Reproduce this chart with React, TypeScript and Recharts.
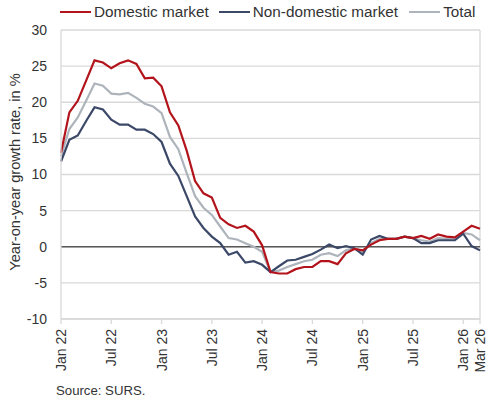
import React from 'react';
import { LineChart, Line, XAxis, YAxis, CartesianGrid, ReferenceLine } from 'recharts';

const MONTH_NAMES = ['Jan', 'Feb', 'Mar', 'Apr', 'May', 'Jun', 'Jul', 'Aug', 'Sep', 'Oct', 'Nov', 'Dec'];
const YEARS = ['22', '23', '24', '25', '26'];
const MONTHS = YEARS.flatMap((y) => MONTH_NAMES.map((m) => `${m} ${y}`)).slice(0, 51);

const X_TICKS = [0, 6, 12, 18, 24, 30, 36, 42, 48, 50];
const Y_TICKS = [-10, -5, 0, 5, 10, 15, 20, 25, 30];

const DOMESTIC = [
  13.0, 18.6, 20.2, 23.0, 25.8, 25.5, 24.7, 25.4, 25.8, 25.3, 23.3, 23.4,
  22.2, 18.6, 16.8, 13.3, 9.1, 7.4, 6.8, 4.0, 3.1, 2.6, 2.9, 2.1,
  0.2, -3.5, -3.7, -3.7, -3.1, -2.8, -2.8, -2.0, -2.0, -2.4, -0.9, -0.3,
  -0.5, 0.3, 0.9, 1.1, 1.1, 1.4, 1.2, 1.5, 1.1, 1.7, 1.4, 1.3,
  2.1, 2.9, 2.5,
];

const NON_DOMESTIC = [
  11.8, 14.8, 15.4, 17.4, 19.3, 19.0, 17.6, 16.9, 16.9, 16.2, 16.2, 15.6,
  14.5, 11.5, 9.8, 7.0, 4.2, 2.6, 1.4, 0.5, -1.1, -0.7, -2.2, -2.0,
  -2.5, -3.5, -2.7, -1.9, -1.8, -1.4, -1.0, -0.4, 0.3, -0.2, 0.1, -0.2,
  -1.1, 1.0, 1.5, 1.1, 1.1, 1.4, 1.2, 0.5, 0.5, 0.9, 0.9, 0.9,
  1.8, 0.1, -0.5,
];

const TOTAL = [
  12.5, 16.3, 17.9, 20.2, 22.6, 22.3, 21.2, 21.1, 21.3, 20.6, 19.8, 19.4,
  18.5, 15.2, 13.5, 10.2, 7.0, 5.4, 4.4, 2.8, 1.2, 1.0, 0.5, 0.0,
  -0.7, -3.5, -3.3, -2.8, -2.4, -2.0, -1.8, -1.1, -0.9, -1.3, -0.5, -0.2,
  -0.7, 0.5, 1.1, 1.1, 1.1, 1.4, 1.2, 0.9, 0.7, 1.2, 1.1, 1.2,
  1.9, 1.7, 0.9,
];

const SERIES = [
  { key: 'domestic', name: 'Domestic market', color: '#B3141C' },
  { key: 'nonDomestic', name: 'Non-domestic market', color: '#3B4868' },
  { key: 'total', name: 'Total', color: '#AEB4BB' },
];

const data = MONTHS.map((month, i) => ({
  idx: i,
  month,
  domestic: DOMESTIC[i],
  nonDomestic: NON_DOMESTIC[i],
  total: TOTAL[i],
}));

const FONT = '"Liberation Sans", Arial, sans-serif';
const TEXT = '#333333';
const GRID = '#D9D9D9';

const XTick = (props: any) => {
  const { x, y, payload } = props;
  return (
    <g transform={`translate(${x},${y + 3})`}>
      <text transform="rotate(-90)" textAnchor="end" dy="0.36em" fontSize={14} fill={TEXT} fontFamily={FONT}>
        {MONTHS[payload.value]}
      </text>
    </g>
  );
};

const ChartLegend = () => (
  <div
    style={{
      position: 'absolute',
      top: 3,
      left: 60,
      display: 'flex',
      alignItems: 'center',
      fontFamily: FONT,
      fontSize: 15.3,
      color: TEXT,
      lineHeight: '18px',
      whiteSpace: 'nowrap',
    }}
  >
    {SERIES.map((s, i) => (
      <div key={s.key} style={{ display: 'flex', alignItems: 'center', marginRight: i === 0 ? 10 : 11 }}>
        <span style={{ display: 'inline-block', width: 31, height: 2.5, background: s.color, marginRight: 3 }} />
        <span>{s.name}</span>
      </div>
    ))}
  </div>
);

export default function App() {
  return (
    <div style={{ position: 'absolute', left: 0, top: 0, width: 490, height: 401, background: '#fff' }}>
      <LineChart width={490} height={401} data={data} margin={{ top: 30, right: 10, bottom: 0, left: 0 }}>
        <CartesianGrid vertical={false} stroke={GRID} strokeWidth={1.3} />
        <XAxis
          dataKey="idx"
          type="number"
          domain={[0, 50]}
          ticks={X_TICKS}
          interval={0}
          tick={<XTick />}
          tickSize={5}
          tickLine={{ stroke: GRID, strokeWidth: 1.3 }}
          axisLine={{ stroke: GRID, strokeWidth: 1.3 }}
          height={82}
        />
        <YAxis
          domain={[-10, 30]}
          ticks={Y_TICKS}
          interval={0}
          width={61}
          tickSize={0}
          tickMargin={14}
          tickLine={false}
          axisLine={{ stroke: GRID, strokeWidth: 1.3 }}
          tick={{ fontSize: 14, fill: TEXT, fontFamily: FONT }}
        />
        <ReferenceLine x={50} stroke={GRID} strokeWidth={1.3} />
        <ReferenceLine y={0} stroke="#595959" strokeWidth={1.5} />
        {SERIES.slice().reverse().map((s) => (
          <Line
            key={s.key}
            type="linear"
            dataKey={s.key}
            name={s.name}
            stroke={s.color}
            strokeWidth={2.2}
            dot={false}
            isAnimationActive={false}
          />
        ))}
      </LineChart>
      <ChartLegend />
      <svg width={490} height={401} style={{ position: 'absolute', left: 0, top: 0, pointerEvents: 'none' }}>
        <text
          transform="translate(15,172) rotate(-90)"
          textAnchor="middle"
          dy="0.36em"
          fontSize={14.6}
          fill={TEXT}
          fontFamily={FONT}
        >
          Year-on-year growth rate, in %
        </text>
        <text x={56} y={390} dy="0.36em" fontSize={13.2} fill={TEXT} fontFamily={FONT}>
          Source: SURS.
        </text>
      </svg>
    </div>
  );
}
